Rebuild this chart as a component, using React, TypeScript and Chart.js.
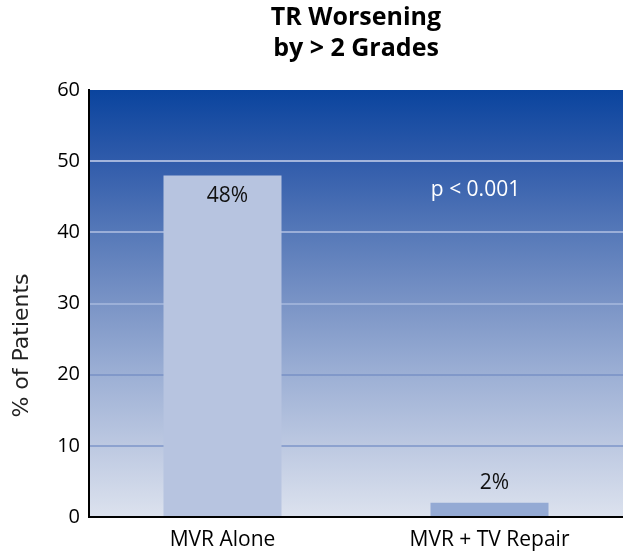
import React, { useEffect, useRef } from "react";
import { Chart, registerables } from "chart.js";

Chart.register(...registerables);

const categories = ["MVR Alone", "MVR + TV Repair"];
const values = [48, 2];
const valueLabels = ["48%", "2%"];
const barColors = ["#B7C4E0", "#94AAD4"];
const titleLines = ["TR Worsening", "by > 2 Grades"];
const yAxisTitle = "% of Patients";
const yMin = 0;
const yMax = 60;
const yStep = 10;
const pValueText = "p < 0.001";
const pValueCategory = 1;
const pValueLevel = 46;

const FONT = "'Open Sans', 'Noto Sans', sans-serif";

const backgroundPlugin = {
  id: "plotBackground",
  beforeDraw(chart: any) {
    const { ctx, chartArea } = chart;
    if (!chartArea) return;
    const g = ctx.createLinearGradient(0, chartArea.top, 0, chartArea.bottom);
    g.addColorStop(0, "#0A449E");
    g.addColorStop(0.17, "#315CAB");
    g.addColorStop(0.33, "#5578B8");
    g.addColorStop(0.5, "#7A94C6");
    g.addColorStop(0.67, "#9DB0D5");
    g.addColorStop(0.83, "#BCC8E1");
    g.addColorStop(1, "#DCE2EE");
    ctx.save();
    ctx.fillStyle = g;
    ctx.fillRect(chartArea.left, chartArea.top, chartArea.right - chartArea.left, chartArea.bottom - chartArea.top);
    ctx.restore();
  },
};

const labelsPlugin = {
  id: "valueLabels",
  afterDatasetsDraw(chart: any) {
    const { ctx, chartArea } = chart;
    const meta = chart.getDatasetMeta(0);
    ctx.save();
    ctx.font = `21px ${FONT}`;
    ctx.textAlign = "center";
    ctx.textBaseline = "middle";
    meta.data.forEach((bar: any, i: number) => {
      const v = values[i];
      ctx.fillStyle = "#111";
      const y = v > 10 ? bar.y + 21 : bar.y - 20;
      ctx.fillText(valueLabels[i], bar.x + 5, y);
    });
    // p-value annotation
    const xs = chart.scales.x;
    const ys = chart.scales.y;
    ctx.fillStyle = "#FFFFFF";
    ctx.fillText(pValueText, xs.getPixelForValue(pValueCategory) - 14, ys.getPixelForValue(pValueLevel));
    // y axis title
    ctx.save();
    ctx.translate(22, (chartArea.top + chartArea.bottom) / 2 + 42);
    ctx.rotate(-Math.PI / 2);
    ctx.font = `22px 'DejaVu Sans', sans-serif`;
    ctx.fillStyle = "#222";
    ctx.fillText(yAxisTitle, 0, 0);
    ctx.restore();
    ctx.restore();
  },
};

const gridColors: Record<number, string> = {
  50: "#A2B4DC",
  40: "#9AAED8",
  30: "#9CB0D8",
  20: "#8198C9",
  10: "#8DA2CF",
};

export default function App() {
  const ref = useRef<HTMLCanvasElement | null>(null);
  useEffect(() => {
    document.body.style.margin = "0";
    if (!ref.current) return;
    const chart = new Chart(ref.current, {
      type: "bar",
      data: {
        labels: categories,
        datasets: [
          {
            data: values,
            backgroundColor: barColors,
            borderWidth: 0,
            categoryPercentage: 1,
            barPercentage: 0.442,
          },
        ],
      },
      options: {
        responsive: false,
        animation: false,
        layout: { padding: { left: 0, right: 0, top: 0, bottom: 2 } },
        plugins: {
          legend: { display: false },
          tooltip: { enabled: false },
          title: {
            display: true,
            text: titleLines,
            color: "#000",
            fullSize: false,
            font: { family: FONT, size: 25, weight: "bold", lineHeight: 1.24 },
            padding: { top: 2, bottom: 26 },
          },
        },
        scales: {
          x: {
            afterFit(scale: any) {
              scale.height = 35;
            },
            grid: { display: false, drawTicks: false },
            border: { display: true, color: "#000", width: 2 },
            ticks: { color: "#000", font: { family: FONT, size: 21 }, padding: 10 },
          },
          y: {
            min: yMin,
            max: yMax,
            afterFit(scale: any) {
              scale.width = 89;
            },
            grid: {
              drawTicks: false,
              lineWidth: 2,
              color: (c: any) => gridColors[c.tick?.value] || "rgba(0,0,0,0)",
            },
            border: { display: true, color: "#000", width: 2 },
            ticks: {
              stepSize: yStep,
              color: "#000",
              font: { family: FONT, size: 20 },
              padding: 9,
            },
          },
        },
      },
      plugins: [backgroundPlugin, labelsPlugin],
    } as any);
    return () => chart.destroy();
  }, []);
  return (
    <div style={{ width: 623, height: 554 }}>
      <canvas ref={ref} width={623} height={554} style={{ display: "block" }} />
    </div>
  );
}
